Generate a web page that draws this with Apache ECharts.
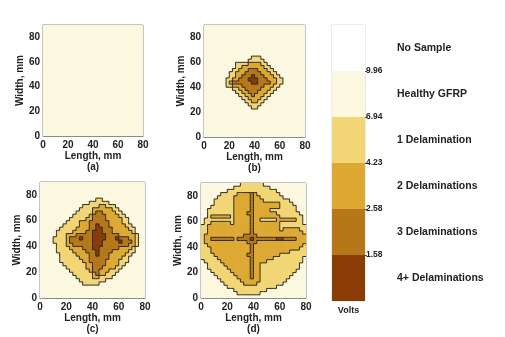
<!DOCTYPE html>
<html><head><meta charset="utf-8">
<script src="https://cdn.jsdelivr.net/npm/echarts@6/dist/echarts.min.js"></script>
<style>html,body{margin:0;padding:0;background:#fff}#c{width:505px;height:337px}</style>
</head><body><div id="c"></div>
<script>
// ---------- DATA ----------
const xMax = 80, yMax = 90;            // mm
const cellSize = 2.5;                  // mm per scan cell
const nCols = 32, nRows = 36;
const xTickValues = [0, 20, 40, 60, 80];
const yTickValues = [0, 20, 40, 60, 80];
const panelLabels = ['(a)', '(b)', '(c)', '(d)'];
// colour-bar (bottom -> top)
const levelNames = ['4+ Delaminations', '3 Delaminations', '2 Delaminations', '1 Delamination', 'Healthy GFRP', 'No Sample'];
const boundaryVolts = ['1.58', '2.58', '4.23', '6.94', '9.96'];
const boundaryPositions = [1, 2, 3, 4, 5];
const colorbarUnit = ['Volts'];
// level per scan cell, rows from top (y = 90 mm) downwards: "level:colFrom-colTo,..."
// 0 = healthy, 1..4 = number of delaminations
const panelA = [];
const panelB = [
 '', '', '', '', '', '', '', '', '', '',
 '1:15-17',
 '1:14-18',
 '1:10-19 2:14-17',
 '1:10-20 2:12-18',
 '1:9-21 2:11-19 3:14-16',
 '1:8-22 2:10-20 3:13-17',
 '1:8-23 2:10-21 3:12-18 4:15',
 '1:7-24 2:9-22 3:11-19 4:14-16',
 '1:7-24 2:8-22 3:9-20 4:15-16',
 '1:7-23 2:9-21 3:12-18',
 '1:9-22 2:11-20 3:13-17',
 '1:10-21 2:12-19 3:14-16',
 '1:11-20 2:13-18 3:15',
 '1:12-19 2:14-17',
 '1:13-18 2:15-16',
 '1:14-17',
 '1:15-16'
];
const panelC = [
 '', '', '', '', '',
 '1:17-18',
 '1:15-20',
 '1:13-22 2:18-19',
 '1:12-23 2:16-21',
 '1:11-24 2:16-22 3:17-18',
 '1:10-25 2:15-23 3:16-19',
 '1:9-26 2:14-24 3:16-19',
 '1:8-26 2:12-24 3:15-20',
 '1:7-27 2:12-25 3:15-20 4:17',
 '1:6-28 2:11-26 3:15-21 4:17-18',
 '1:5-28 2:10-27 3:14-21 4:16-18',
 '1:5-29 2:8-28 3:11-23 4:16-19',
 '1:4-29 2:8-28 3:9-26 4:16-19,12,23',
 '1:4-29 2:8-28 3:9-27 4:16-18,24',
 '1:5-29 2:8-28 3:10-26 4:16-18',
 '1:5-28 2:9-27 3:13-23 4:16-17',
 '1:5-28 2:10-26 3:14-21 4:17',
 '1:6-27 2:11-25 3:15-20 4:17',
 '1:6-26 2:12-24 3:15-20',
 '1:6-26 2:13-23 3:15-19',
 '1:7-25 2:14-23 3:16-19',
 '1:8-24 2:14-22 3:16-18',
 '1:9-23 2:15-20 3:16-17',
 '1:10-22 2:16-19 3:17',
 '1:11-21 2:16-17',
 '1:12-19',
 '1:13-17'
];
const panelD = [
 '1:12-18',
 '1:10-20',
 '1:8-22',
 '1:6-23 2:11-16 3:15',
 '1:5-24 2:10-17 3:15',
 '1:4-26 2:10-18 3:15',
 '1:4-27 2:10-23 3:15',
 '1:3-28 2:10-23 3:15',
 '1:2-28 2:10-20 3:15',
 '1:2-29 2:10-22 3:14-15',
 '1:2-30 2:3-8,10-23 3:15',
 '1:1-30 2:10-17,23-28 3:15',
 '1:1-30 2:3-8,10-23 3:15',
 '1:0-31 2:2-23 3:15',
 '1:0-31 2:2-23,25-29 3:15',
 '1:0-31 2:2-30 3:15',
 '1:0-31 2:1-31 3:13-16',
 '1:0-31 2:1-31 3:3-9,11-28 4:15,23-24',
 '1:0-31 2:1-31 3:14-16',
 '1:0-31 2:2-30 3:15',
 '1:0-31 2:3-29 3:15',
 '1:0-31 2:3-26 3:15',
 '1:0-31 2:4-23 3:14-15',
 '1:0-30 2:5-21 3:15',
 '1:1-30 2:6-19 3:15',
 '1:2-29 2:7-17 3:15',
 '1:2-29 2:8-17 3:15',
 '1:3-28 2:9-17 3:15',
 '1:4-27 2:10-17 3:15',
 '1:5-26 2:11-17 3:15',
 '1:6-25 2:12-17',
 '1:7-24 2:13-16',
 '1:8-22',
 '1:10-19',
 '1:11-17'
];
const panels = [panelA, panelB, panelC, panelD];

// ---------- STYLE ----------
// colours by level: healthy, 1, 2, 3, 4 ; colour bar bottom->top
const levelColors = ['#fcf8e0', '#f2d675', '#dda933', '#b67718', '#893c05'];
const barColors = ['#893c05', '#b67718', '#dda933', '#f2d675', '#fcf8e0', '#ffffff'];
const FONT = '"Liberation Sans", Arial, sans-serif';
const gridBoxes = [
  {left: 43, top: 25, width: 100, height: 111, xGap: 14.5},
  {left: 204, top: 25, width: 101, height: 112, xGap: 14.5},
  {left: 40, top: 182, width: 105, height: 116, xGap: 11.5},
  {left: 201, top: 183, width: 105, height: 115, xGap: 11.5}
];

function buildGrid(rows) {
  const g = [];
  for (let r = 0; r < nRows; r++) g.push(new Array(nCols).fill(0));
  rows.forEach((s, r) => {
    if (!s) return;
    s.trim().split(/\s+/).forEach(tok => {
      const [lv, spans] = tok.split(':');
      spans.split(',').forEach(sp => {
        const ab = sp.split('-').map(Number);
        const a = ab[0], b = ab.length > 1 ? ab[1] : ab[0];
        for (let c = a; c <= b; c++) g[r][c] = +lv;
      });
    });
  });
  return g;
}

const grids = [], xAxes = [], yAxes = [], series = [];
const tickLabelStyle = {fontSize: 10, fontWeight: 'bold', color: '#222', fontFamily: FONT};
const lineStyle = {color: '#8c8c8c', width: 1};

panels.forEach((rows, i) => {
  const gb = gridBoxes[i];
  grids.push({left: gb.left, top: gb.top, width: gb.width, height: gb.height,
    show: true, borderColor: '#8c8c8c', borderWidth: 1, backgroundColor: 'transparent'});
  xAxes.push({gridIndex: i, type: 'value', min: 0, max: xMax, position: 'bottom',
    axisLine: {show: true, lineStyle}, axisTick: {show: false},
    splitLine: {show: false}, axisLabel: Object.assign({margin: 4, customValues: xTickValues}, tickLabelStyle),
    name: 'Length, mm\n' + panelLabels[i], nameLocation: 'middle', nameGap: gb.xGap,
    nameTextStyle: {fontSize: 10, fontWeight: 'bold', color: '#222', fontFamily: FONT, lineHeight: 11}});
  yAxes.push({gridIndex: i, type: 'value', min: 0, max: yMax, position: 'left',
    axisLine: {show: true, lineStyle}, axisTick: {show: false},
    splitLine: {show: false}, axisLabel: Object.assign({margin: 3, customValues: yTickValues}, tickLabelStyle),
    name: 'Width, mm', nameLocation: 'middle', nameGap: 17, nameRotate: 90,
    nameTextStyle: {fontSize: 10, fontWeight: 'bold', color: '#222', fontFamily: FONT}});

  const g = buildGrid(rows);
  const cells = [], segs = [];
  for (let r = 0; r < nRows; r++) {
    for (let c = 0; c < nCols; c++) {
      cells.push([(c + 0.5) * cellSize, yMax - (r + 0.5) * cellSize, g[r][c]]);
      if (c < nCols - 1 && g[r][c] !== g[r][c + 1]) {
        const x = (c + 1) * cellSize;
        segs.push([x, yMax - r * cellSize, x, yMax - (r + 1) * cellSize]);
      }
      if (r < nRows - 1 && g[r][c] !== g[r + 1][c]) {
        const y = yMax - (r + 1) * cellSize;
        segs.push([c * cellSize, y, (c + 1) * cellSize, y]);
      }
    }
  }
  series.push({type: 'custom', xAxisIndex: i, yAxisIndex: i, clip: true, silent: true,
    data: cells,
    renderItem: (params, api) => {
      const cx = api.value(0), cy = api.value(1), lv = api.value(2);
      const p0 = api.coord([cx - cellSize / 2, cy + cellSize / 2]);
      const p1 = api.coord([cx + cellSize / 2, cy - cellSize / 2]);
      return {type: 'rect', shape: {x: p0[0], y: p0[1], width: p1[0] - p0[0] + 0.6, height: p1[1] - p0[1] + 0.6},
        style: {fill: levelColors[lv]}};
    }});
  series.push({type: 'custom', xAxisIndex: i, yAxisIndex: i, clip: true, silent: true,
    data: segs,
    renderItem: (params, api) => {
      const a = api.coord([api.value(0), api.value(1)]);
      const b = api.coord([api.value(2), api.value(3)]);
      return {type: 'line', shape: {x1: a[0], y1: a[1], x2: b[0], y2: b[1]},
        style: {stroke: '#2e2a24', lineWidth: 1}};
    }});
});

// colour bar
grids.push({left: 332, top: 25, width: 33, height: 276, show: true, borderColor: '#d8d8d8', borderWidth: 1});
xAxes.push({gridIndex: 4, type: 'category', data: colorbarUnit, axisLine: {show: false}, axisTick: {show: false},
  axisLabel: {margin: 5, fontSize: 9, fontWeight: 'bold', color: '#222', fontFamily: FONT}});
yAxes.push({gridIndex: 4, type: 'value', min: 0, max: levelNames.length, position: 'right',
  axisLine: {show: false},
  axisTick: {show: true, length: 2, lineStyle: {color: '#555'}, customValues: boundaryPositions},
  splitLine: {show: false},
  axisLabel: {margin: 1, fontSize: 8.5, fontWeight: 'bold', color: '#222', fontFamily: FONT,
    customValues: boundaryPositions,
    formatter: v => boundaryVolts[boundaryPositions.indexOf(v)] || ''}});
yAxes.push({gridIndex: 4, type: 'category', data: levelNames, position: 'right',
  axisLine: {show: false}, axisTick: {show: false},
  axisLabel: {margin: 32, fontSize: 10.5, fontWeight: 'bold', color: '#222', fontFamily: FONT}});
levelNames.forEach((n, k) => {
  series.push({type: 'bar', name: n, stack: 'cb', xAxisIndex: 4, yAxisIndex: 4, barWidth: '100%', silent: true,
    data: [1], itemStyle: {color: barColors[k]}});
});

const chart = echarts.init(document.getElementById('c'), null, {renderer: 'canvas'});
chart.setOption({animation: false, backgroundColor: '#fff', textStyle: {fontFamily: FONT},
  grid: grids, xAxis: xAxes, yAxis: yAxes, series});
</script></body></html>
